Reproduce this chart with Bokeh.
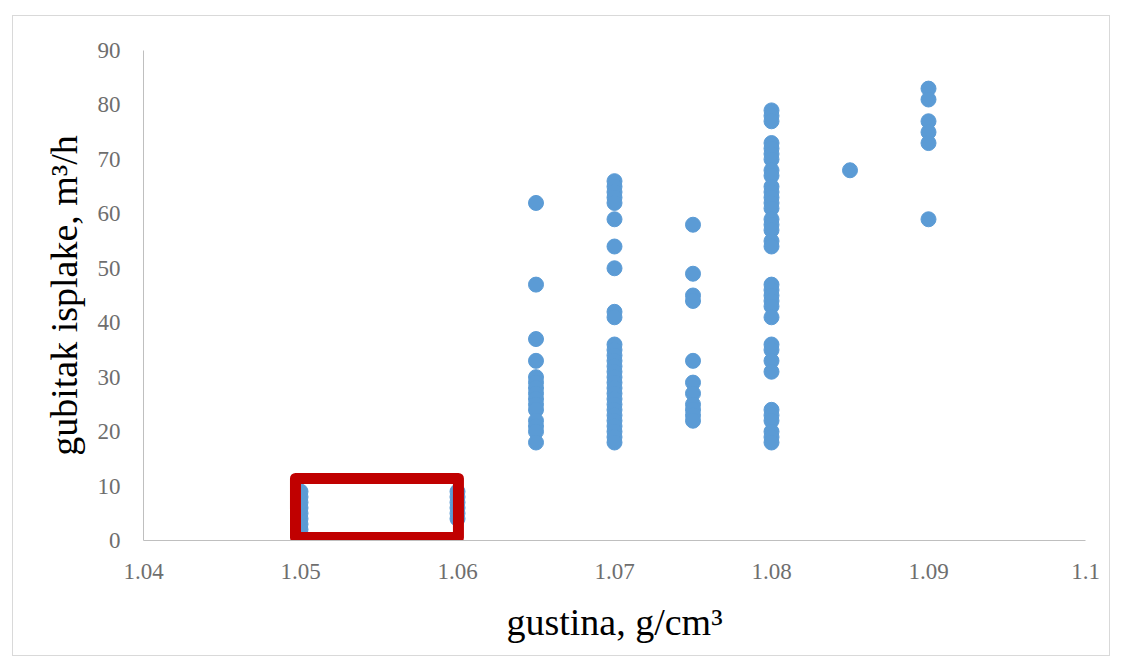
from bokeh.plotting import figure
from bokeh.models import FixedTicker, Range1d
from bokeh.embed import file_html
from bokeh.resources import INLINE

# ---- data ----
density_1050 = [0, 1, 2, 3, 4, 5, 6, 7, 8, 9]
density_1060 = [4, 5, 6, 7, 8, 9]
density_1065 = [62, 47, 37, 33, 30, 29, 28, 27, 26, 25, 24, 22, 21, 20, 18]
density_1070 = [66, 65, 64, 63, 62, 59, 54, 50, 42, 41, 36, 35, 34, 33, 32, 31,
                30, 29, 28, 27, 26, 25, 24, 23, 22, 21, 20, 19, 18]
density_1075 = [58, 49, 45, 44, 33, 29, 27, 25, 24, 23, 22]
density_1080 = [79, 78, 77, 73, 72, 71, 70, 68, 67, 65, 64, 63, 62, 61, 59, 58,
                57, 55, 54, 47, 46, 45, 44, 43, 41, 36, 35, 33, 31, 24, 23, 22,
                20, 19, 18]
density_1085 = [68]
density_1090 = [83, 81, 77, 75, 73, 59]

groups = [
    (1.05, density_1050), (1.06, density_1060), (1.065, density_1065),
    (1.07, density_1070), (1.075, density_1075), (1.08, density_1080),
    (1.085, density_1085), (1.09, density_1090),
]
xs, ys = [], []
for gx, vals in groups:
    for v in vals:
        xs.append(gx)
        ys.append(v)

x_ticks = [1.04, 1.05, 1.06, 1.07, 1.08, 1.09, 1.1]
x_tick_labels = ["1.04", "1.05", "1.06", "1.07", "1.08", "1.09", "1.1"]
y_ticks = [0, 10, 20, 30, 40, 50, 60, 70, 80, 90]

# highlighted region (red box annotation)
box_left, box_right, box_bottom, box_top = 1.04968, 1.06006, 0.55, 11.4

x_title = "gustina, g/cm³"
y_title = "gubitak isplake, m³/h"

serif = "Liberation Serif"

p = figure(width=1098, height=641, output_backend="svg", toolbar_location=None,
           x_range=Range1d(1.04, 1.1), y_range=Range1d(0, 90),
           min_border_left=130, min_border_right=26, min_border_top=34,
           min_border_bottom=117)
p.margin = (15, 12, 5, 12)
p.styles = {"border": "1px solid #D9D9D9"}
p.outline_line_color = None
p.grid.grid_line_color = None
p.background_fill_color = "white"
p.border_fill_color = "white"

p.scatter(xs, ys, size=15, fill_color="#5B9BD5", line_color="#5B9BD5")

p.quad(left=[box_left], right=[box_right], bottom=[box_bottom], top=[box_top],
       fill_color=None, line_color="#C00000", line_width=11, line_join="round")

for ax in (p.xaxis[0], p.yaxis[0]):
    ax.axis_line_color = "#BFBFBF"
    ax.axis_line_width = 1
    ax.major_tick_line_color = None
    ax.minor_tick_line_color = None
    ax.major_tick_out = 0
    ax.major_tick_in = 0
    ax.major_label_text_font = serif
    ax.major_label_text_font_size = "23px"
    ax.major_label_text_color = "#6E6E6E"
    ax.major_label_standoff = 23
    ax.axis_label_text_font = serif
    ax.axis_label_text_font_size = "38px"
    ax.axis_label_text_font_style = "normal"
    ax.axis_label_text_color = "black"

p.xaxis.ticker = FixedTicker(ticks=x_ticks)
p.xaxis.major_label_overrides = dict(zip(x_ticks, x_tick_labels))
p.yaxis.ticker = FixedTicker(ticks=y_ticks)

p.yaxis.axis_label = y_title
p.yaxis.axis_label_standoff = 10
p.xaxis.axis_label = x_title
p.xaxis.axis_label_standoff = 19

open("out.html", "w").write(file_html(p, INLINE))
